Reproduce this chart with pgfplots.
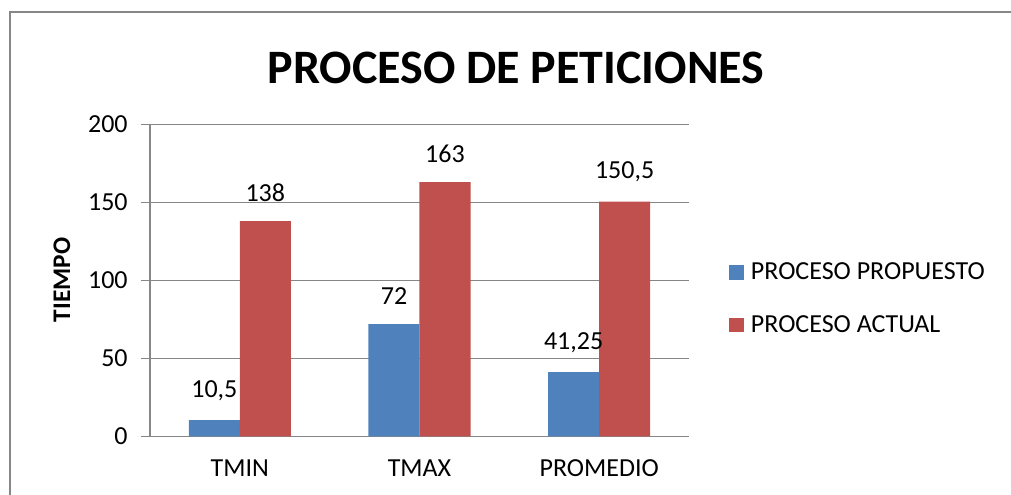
\documentclass[border=0pt]{standalone}
\usepackage{pgfplots}
\pgfplotsset{compat=1.18}
\usepackage{fontspec}
\setmainfont{Carlito}
\definecolor{bblue}{HTML}{4F81BD}
\definecolor{rred}{HTML}{C0504D}
\definecolor{gline}{HTML}{868686}
\begin{document}
\begin{tikzpicture}
\useasboundingbox (0pt,0pt) rectangle (758.25pt,371.25pt);
\draw[gline, line width=1.5pt] (7.5pt,-20pt) -- (7.5pt,362.25pt) -- (758.25pt,362.25pt);
\node[font=\bfseries\fontsize{36}{43}\selectfont] at (387pt,320.25pt) {PROCESO DE PETICIONES};
\node[font=\bfseries\fontsize{19}{23}\selectfont, rotate=90] at (46.5pt,161.25pt) {TIEMPO};
\begin{axis}[
 at={(112.5pt,43.875pt)}, anchor=south west,
 width=404.25pt, height=234pt, scale only axis,
 ymin=0, ymax=200, ytick={0,50,100,150,200},
 xmin=-0.5, xmax=2.5, xtick={0,1,2}, xticklabels={TMIN,TMAX,PROMEDIO},
 axis lines*=left,
 axis line style={gline, line width=1pt},
 ymajorgrids, grid style={gline, line width=1pt},
 major x tick style={draw=none},
 ytick style={gline, line width=1pt},
 tick align=outside, major tick length=6.75pt,
 ybar=0pt, bar width=38.25pt,
 tick label style={font=\fontsize{19.5}{23.4}\selectfont},
 yticklabel style={xshift=-6.5pt},
 xticklabel style={yshift=-7pt},
 /pgf/number format/assume math mode=true,
 nodes near coords, point meta=explicit symbolic,
 nodes near coords style={font=\fontsize{19.5}{23.4}\selectfont, black, anchor=south, inner sep=0pt, yshift=14.5pt},
 legend style={at={(1,0.442)}, anchor=west, xshift=30pt, draw=none, fill=none, font=\fontsize{19.5}{23.4}\selectfont, row sep=21.5pt, inner sep=0pt},
 legend cell align=left,
 legend image code/.code={\fill[#1] (0pt,-5.6pt) rectangle (11.25pt,5.6pt);},
]
\addplot[fill=bblue, draw=none] coordinates {(0,10.5) [10,5] (1,72) [72] (2,41.25) [41,25]};
\addplot[fill=rred, draw=none] coordinates {(0,138) [138] (1,163) [163] (2,150.5) [150,5]};
\legend{\hspace{3pt}PROCESO PROPUESTO, \hspace{3pt}PROCESO ACTUAL}
\end{axis}
\end{tikzpicture}
\end{document}
